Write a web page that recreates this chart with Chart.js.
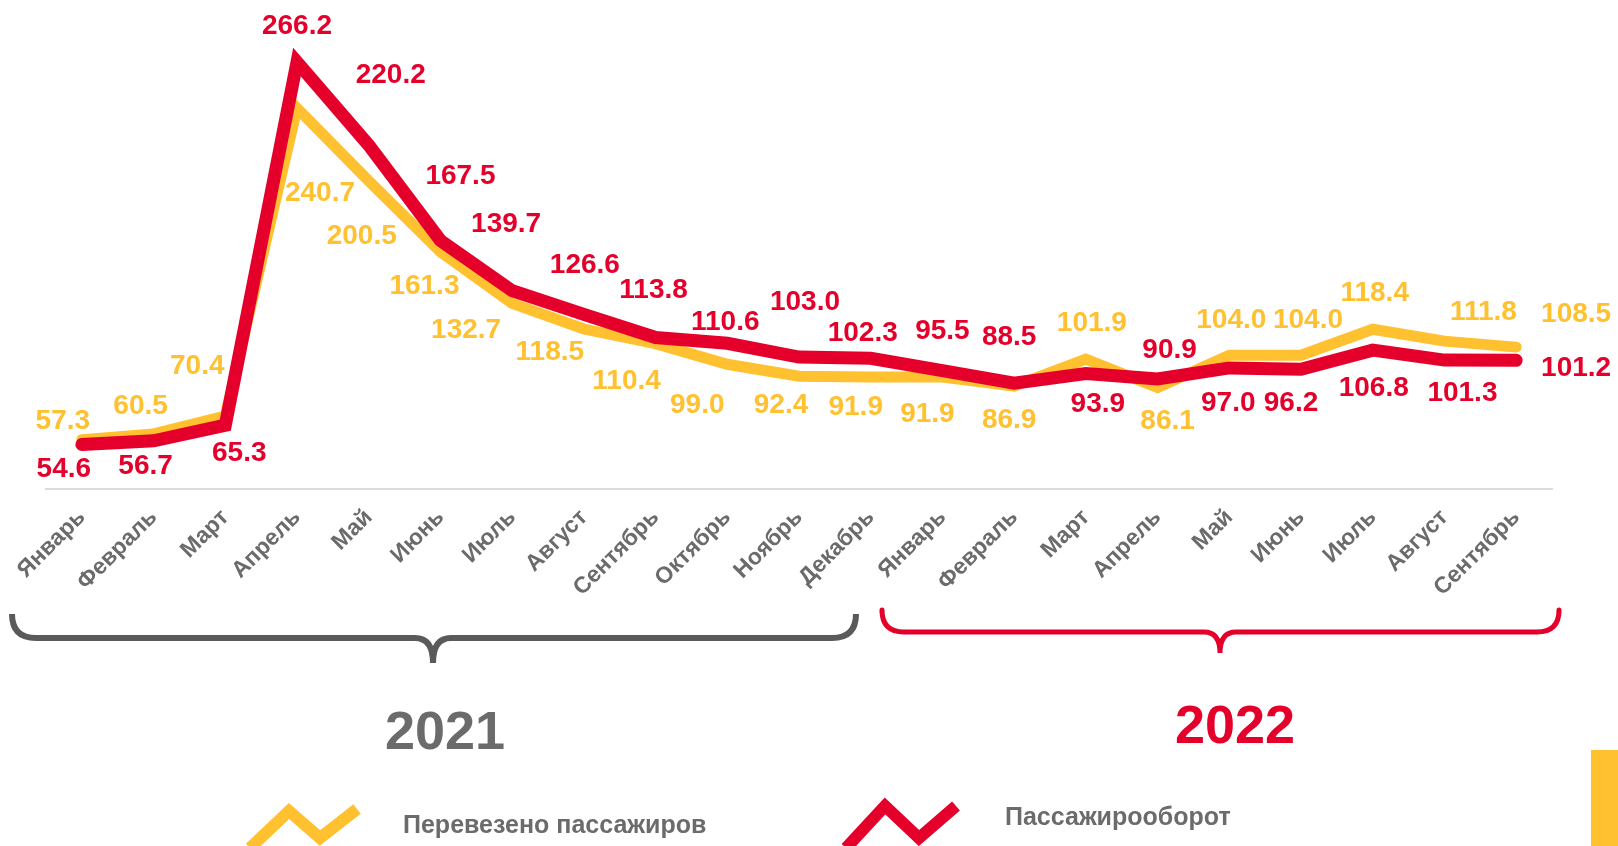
<!DOCTYPE html>
<html>
<head>
<meta charset="utf-8">
<script src="https://cdn.jsdelivr.net/npm/chart.js@4.4.0/dist/chart.umd.min.js"></script>
<style>
    html, body { margin: 0; padding: 0; background: #fff; }
    #wrap { width: 1618px; height: 846px; position: relative; }
</style>
</head>
<body>
<div id="wrap"><canvas id="passengers-chart"></canvas></div>
<script>
const months = ['Январь', 'Февраль', 'Март', 'Апрель', 'Май', 'Июнь', 'Июль', 'Август', 'Сентябрь', 'Октябрь', 'Ноябрь', 'Декабрь',
                'Январь', 'Февраль', 'Март', 'Апрель', 'Май', 'Июнь', 'Июль', 'Август', 'Сентябрь'];
const passengers = [57.3, 60.5, 70.4, 240.7, 200.5, 161.3, 132.7, 118.5, 110.4, 99.0, 92.4, 91.9,
                    91.9, 86.9, 101.9, 86.1, 104.0, 104.0, 118.4, 111.8, 108.5];
const turnover = [54.6, 56.7, 65.3, 266.2, 220.2, 167.5, 139.7, 126.6, 113.8, 110.6, 103.0, 102.3,
                  95.5, 88.5, 93.9, 90.9, 97.0, 96.2, 106.8, 101.3, 101.2];
const years = ['2021', '2022'];
const seriesNames = ['Перевезено пассажиров', 'Пассажирооборот'];

const RED = '#e4002b';
const YELLOW = '#ffc12f';
const GREY = '#6b6b6b';
const FONT = '"Liberation Sans", Arial, sans-serif';

// where each value label sits relative to its point (dx, dy in px)
const passengerLabelShift = [[-19, -18], [-13, -28], [-28, -50], [23, 85], [-7, 55], [-16, 35], [-46, 27], [-34, 23],
                             [-29, 38], [-30, 41], [-18, 29], [-15, 30], [-15, 37], [-5, 34], [6, -36], [10, 34],
                             [2, -35], [7, -35], [2, -36], [39, -29], [60, -33]];
const turnoverLabelShift = [[-18, 25], [-8, 26], [14, 28], [0, -36], [22, -70], [20, -64], [-6, -66], [1, -49],
                            [-2, -47], [-2, -21], [6, -55], [-8, -25], [0, -39], [-5, -46], [12, 31], [12, -29],
                            [-1, 35], [-10, 34], [1, 38], [18, 33], [60, 8]];

const valueLabels = {
    id: 'valueLabels',
    afterDatasetsDraw(chart)
    {
        const ctx = chart.ctx;
        ctx.save();
        ctx.font = 'bold 28px ' + FONT;
        ctx.textAlign = 'center';
        ctx.textBaseline = 'middle';
        chart.data.datasets.forEach((ds, di) => {
            const meta = chart.getDatasetMeta(di);
            ctx.fillStyle = ds.borderColor;
            meta.data.forEach((pt, i) => {
                const shift = ds.labelShift[i];
                ctx.fillText(ds.data[i].toFixed(1), pt.x + shift[0], pt.y + shift[1]);
            });
        });
        ctx.restore();
    }
};

function draw_brace(ctx, x1, x2, cx, top, mid, tip, r, r2)
{
    ctx.beginPath();
    ctx.moveTo(x1, top);
    ctx.lineTo(x1, mid - r);
    ctx.quadraticCurveTo(x1, mid, x1 + r, mid);
    ctx.lineTo(cx - r2, mid);
    ctx.quadraticCurveTo(cx, mid, cx, tip);
    ctx.moveTo(x2, top);
    ctx.lineTo(x2, mid - r);
    ctx.quadraticCurveTo(x2, mid, x2 - r, mid);
    ctx.lineTo(cx + r2, mid);
    ctx.quadraticCurveTo(cx, mid, cx, tip);
    ctx.stroke();
}

function draw_zigzag(ctx, pts)
{
    ctx.beginPath();
    ctx.moveTo(pts[0][0], pts[0][1]);
    for (let i = 1; i < pts.length; i++)
    {
        ctx.lineTo(pts[i][0], pts[i][1]);
    }
    ctx.stroke();
}

// year braces, year captions, legend and the yellow tab on the right
const decorations = {
    id: 'decorations',
    afterDraw(chart)
    {
        const ctx = chart.ctx;
        ctx.save();
        ctx.lineJoin = 'round';
        ctx.lineCap = 'butt';

        ctx.strokeStyle = '#5a5a5a';
        ctx.lineWidth = 6;
        draw_brace(ctx, 12, 856, 433, 614, 638, 663, 24, 18);

        ctx.strokeStyle = RED;
        ctx.lineWidth = 5;
        draw_brace(ctx, 882, 1559, 1220, 613, 632, 653, 22, 16);

        ctx.font = 'bold 54px ' + FONT;
        ctx.textAlign = 'center';
        ctx.textBaseline = 'middle';
        ctx.fillStyle = GREY;
        ctx.fillText(years[0], 445, 734);
        ctx.fillStyle = RED;
        ctx.fillText(years[1], 1235, 728);

        ctx.lineJoin = 'miter';
        ctx.lineWidth = 12;
        ctx.strokeStyle = YELLOW;
        draw_zigzag(ctx, [[250, 848], [289, 811], [320, 838], [357, 809]]);
        ctx.strokeStyle = RED;
        draw_zigzag(ctx, [[846, 848], [885, 806], [919, 838], [956, 806]]);

        ctx.font = 'bold 25px ' + FONT;
        ctx.textAlign = 'left';
        ctx.fillStyle = GREY;
        ctx.fillText(seriesNames[0], 403, 826);
        ctx.fillText(seriesNames[1], 1005, 818);

        ctx.fillStyle = YELLOW;
        ctx.fillRect(1591, 750, 27, 96);
        ctx.restore();
    }
};

const chart_ctx = document.getElementById('passengers-chart').getContext('2d');

const passengers_chart = new Chart(chart_ctx, {
    type: 'line',
    data: {
        labels: months,
        datasets: [{
            label: seriesNames[0],
            data: passengers,
            labelShift: passengerLabelShift,
            borderColor: YELLOW,
            borderWidth: 11,
            order: 1
        }, {
            label: seriesNames[1],
            data: turnover,
            labelShift: turnoverLabelShift,
            borderColor: RED,
            borderWidth: 13,
            order: 0
        }]
    },
    options: {
        responsive: true,
        maintainAspectRatio: false,
        animation: false,
        layout: {
            padding: { left: 46, right: 66, top: 10, bottom: 0 }
        },
        elements: {
            line: { tension: 0, borderCapStyle: 'round', borderJoinStyle: 'miter', fill: false },
            point: { radius: 0, hoverRadius: 0 }
        },
        plugins: {
            legend: { display: false },
            tooltip: { enabled: false }
        },
        scales: {
            x: {
                offset: true,
                grid: { display: false, drawTicks: false },
                border: { display: true, color: '#dcdcdc', width: 2 },
                ticks: {
                    autoSkip: false,
                    maxRotation: 45,
                    minRotation: 45,
                    padding: 15,
                    color: GREY,
                    font: { family: FONT, size: 23, weight: 'bold' }
                },
                afterFit: function(scale) { scale.height = 357; }
            },
            y: {
                display: false,
                min: 30,
                max: 295
            }
        }
    },
    plugins: [valueLabels, decorations]
});
</script>
</body>
</html>
